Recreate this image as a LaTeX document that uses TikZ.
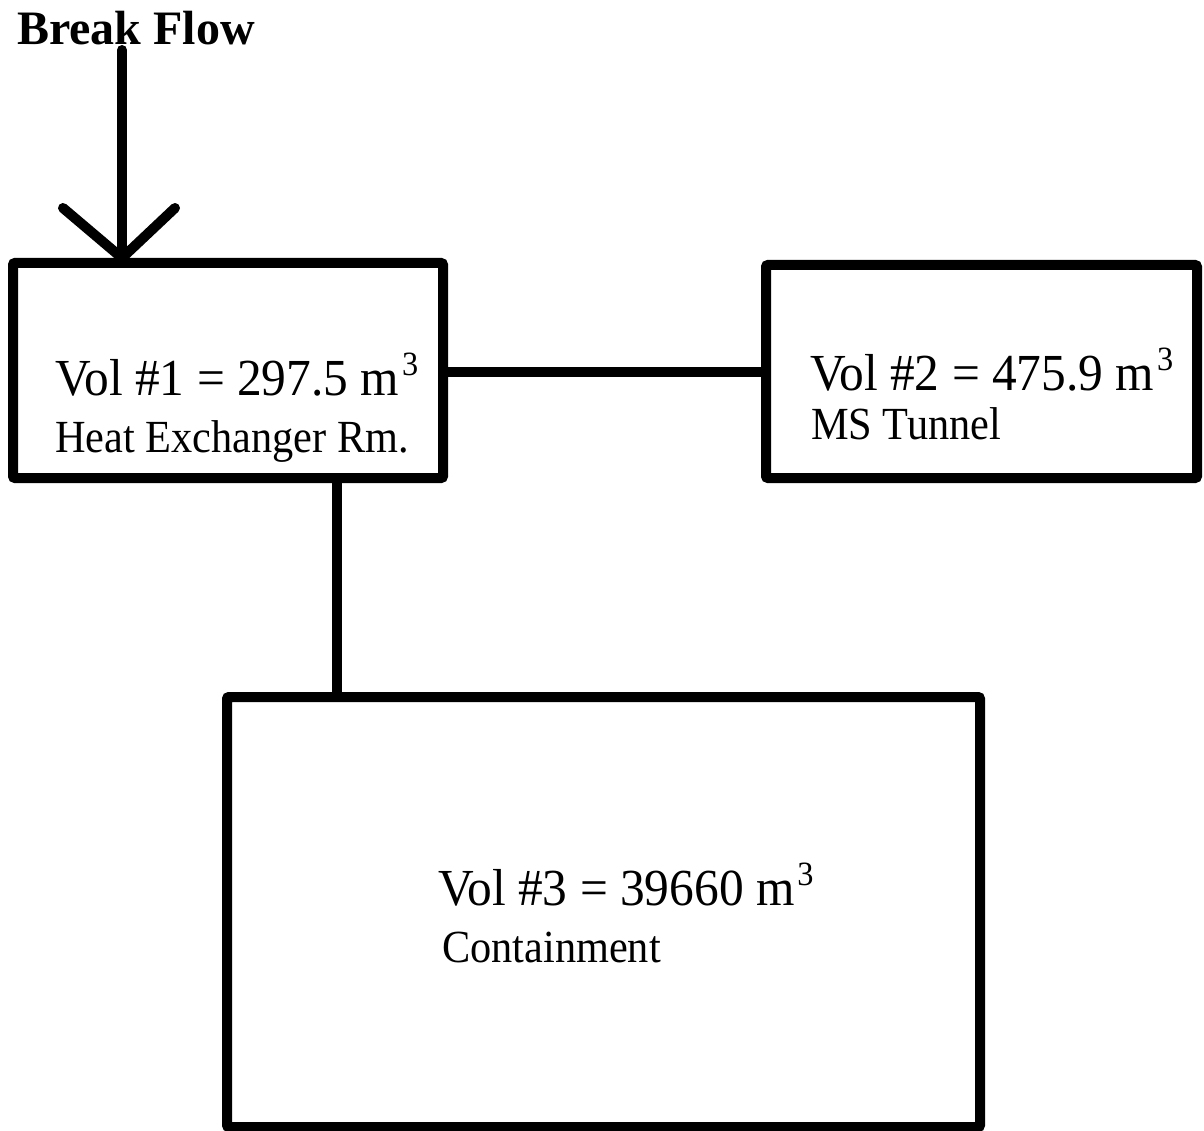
\documentclass[tikz,border=0pt]{standalone}
\usepackage{fontspec}
\setmainfont{Liberation Serif}
\newcommand\volline[1]{\scalebox{0.95}[1]{#1~m\hspace{3pt}\raisebox{20pt}{\fontsize{34}{34}\selectfont 3}}}
\newcommand\subline[1]{\scalebox{0.92}[1]{#1}}
\begin{document}
\begin{tikzpicture}[x=1pt,y=-1pt,
  vbox/.style={draw, line width=10pt, rounded corners=2pt, inner sep=0pt, fill=white},
  mainlbl/.style={anchor=base west, inner sep=0pt, font=\fontsize{52}{60}\selectfont},
  sublbl/.style={anchor=base west, inner sep=0pt, font=\fontsize{46}{55}\selectfont},
  ln/.style={line width=10pt},
  arr/.style={line width=10pt, line cap=round, line join=round}]
\useasboundingbox[fill=white] (0,0) rectangle (1204,1131);
% boxes
\node[vbox, minimum width=430pt, minimum height=215pt] (b1) at (228,370.5) {};
\node[vbox, minimum width=431pt, minimum height=213pt] (b2) at (981.5,371.5) {};
\node[vbox, minimum width=753pt, minimum height=430pt] (b3) at (603.5,912) {};
% connectors
\draw[ln] (b1.east |- b2.west) -- (b2.west);
\draw[ln] ([xshift=109pt]b1.south) -- ([xshift=109pt]b1.south |- b3.north);
% break flow arrow
\node[anchor=base west, inner sep=0pt, font=\fontsize{48}{55}\selectfont\bfseries] (bf) at (17,45) {Break Flow};
\coordinate (bfstart) at (122,50);
\coordinate (tip) at (b1.north -| bfstart);
\draw[arr] (bfstart) -- (tip);
\draw[arr] ([shift={(-59,-50)}]tip) -- (tip) -- ([shift={(53,-50)}]tip);
% labels
\node[mainlbl] (t1) at (55,395) {\volline{Vol \#1 = 297.5}};
\node[sublbl] (s1) at (55,452) {\subline{Heat Exchanger Rm.}};
\node[mainlbl] (t2) at (810,390) {\volline{Vol \#2 = 475.9}};
\node[sublbl] (s2) at (811,439) {\subline{MS Tunnel}};
\node[mainlbl] (t3) at (438,905) {\volline{Vol \#3 = 39660}};
\node[sublbl] (s3) at (442,962) {\subline{Containment}};
\end{tikzpicture}
\end{document}
